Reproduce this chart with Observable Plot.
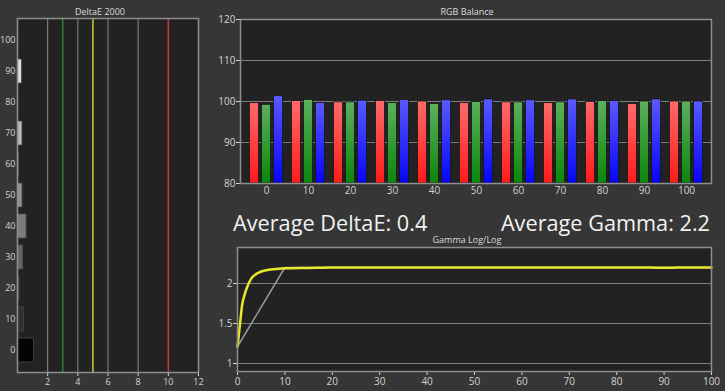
<!DOCTYPE html>
<html><head><meta charset="utf-8">
<script src="https://cdn.jsdelivr.net/npm/d3@7"></script>
<script src="https://cdn.jsdelivr.net/npm/@observablehq/plot@0.6"></script>
<style>
body{margin:0;background:#363636;}
#root{position:relative;width:725px;height:391px;background:#363636;overflow:hidden;font-family:"Open Sans",sans-serif;color:#ddd;}
.panel{position:absolute;}
.title{position:absolute;font-size:9px;line-height:1;color:#dcdcdc;transform:translateX(-50%);white-space:nowrap;}
.big{position:absolute;font-size:21.7px;line-height:1;color:#f2f2f2;white-space:nowrap;}
</style></head><body><div id="root"></div>
<script>
// ---- DeltaE 2000 (grayscale) ----
const deLevels = [0, 10, 20, 30, 40, 50, 60, 70, 80, 90, 100];
const deValues = [1.09, 0.42, 0.13, 0.38, 0.6, 0.33, 0.1, 0.33, 0.04, 0.29, 0.04];
const deTicks = [2, 4, 6, 8, 10, 12];
const deGrid = [2, 4, 6, 8];
const deGreen = [3];
const deYellow = [5];
const deRed = [10];

// ---- RGB Balance ----
const rgbLevels = [0, 10, 20, 30, 40, 50, 60, 70, 80, 90, 100];
const redVals   = [99.6, 100.1, 99.8, 100.1, 100.0, 99.6, 99.8, 99.6, 99.9, 99.4, 100.0];
const greenVals = [99.2, 100.4, 99.8, 99.6, 99.4, 99.9, 99.8, 99.8, 100.1, 100.0, 100.0];
const blueVals  = [101.3, 99.6, 100.2, 100.4, 100.3, 100.5, 100.3, 100.5, 100.1, 100.5, 100.0];
const rgbTicks = [80, 90, 100, 110, 120];
const rgbGrid = [90, 100, 110];

// ---- Gamma Log/Log ----
const gammaX = [0, 0.5, 1, 1.5, 2, 3, 4, 5, 6, 8, 10, 15, 20, 25, 30, 35, 40, 45, 50, 55, 60, 65, 70, 75, 80, 85, 88, 90, 92, 95, 100];
const gammaY = [1.21, 1.48, 1.74, 1.86, 1.95, 2.07, 2.12, 2.15, 2.165, 2.18, 2.19, 2.195, 2.2, 2.2, 2.2, 2.2, 2.2, 2.2, 2.2, 2.2, 2.2, 2.2, 2.2, 2.2, 2.2, 2.2, 2.198, 2.196, 2.198, 2.2, 2.2];
const targetX = [0, 10, 100];
const targetY = [1.21, 2.2, 2.2];
const gammaXTicks = [0, 10, 20, 30, 40, 50, 60, 70, 80, 90, 100];
const gammaYTicks = [1, 1.5, 2];

const root = document.getElementById("root");
const baseStyle = {background: "transparent", color: "#d2d2d2", fontFamily: "Open Sans", overflow: "visible"};

function place(el, left, top) {
  el.style.position = "absolute";
  el.style.left = left + "px";
  el.style.top = top + "px";
  root.appendChild(el);
}
function addText(cls, txt, css) {
  const d = document.createElement("div");
  d.className = cls;
  d.textContent = txt;
  Object.assign(d.style, css);
  root.appendChild(d);
}

// DeltaE chart
const deData = deLevels.map((l, i) => ({level: l, v: deValues[i]}));
const de = Plot.plot({
  width: 205, height: 391,
  marginLeft: 17, marginRight: 7, marginTop: 18, marginBottom: 19,
  style: {...baseStyle, fontSize: "9px"},
  x: {domain: [0, 12], ticks: deTicks, tickSize: 4, tickPadding: 2, label: null},
  y: {domain: deLevels.slice().reverse(), padding: 0.22, tickSize: 0, tickPadding: 2, label: null},
  color: {type: "pow", exponent: 0.75, domain: [0, 100], range: ["#040404", "#f2f2f2"], interpolate: "rgb"},
  marks: [
    Plot.frame({fill: "#222222"}),
    Plot.ruleX(deGrid, {stroke: "#8a8a8a", strokeWidth: 1}),
    Plot.ruleX(deGreen, {stroke: "#2f7a30", strokeWidth: 1.6}),
    Plot.ruleX(deYellow, {stroke: "#c4c236", strokeWidth: 1.6}),
    Plot.ruleX(deRed, {stroke: "#c2343e", strokeWidth: 1.6}),
    Plot.barX(deData, {x: "v", y: "level", fill: "level", stroke: "#4a4a4a", strokeWidth: 0.8}),
    Plot.frame({stroke: "#8e8e8e", strokeWidth: 1.5})
  ]
});
place(de, 0, 0);

// RGB chart
const mk = arr => rgbLevels.map((l, i) => ({level: l, v: arr[i]}));
const rgb = Plot.plot({
  width: 515, height: 200,
  marginLeft: 30, marginRight: 14, marginTop: 19, marginBottom: 17,
  style: {...baseStyle, fontSize: "10px"},
  x: {domain: rgbLevels, padding: 0, tickSize: 0, tickPadding: 3, label: null},
  y: {domain: [80, 120], ticks: rgbTicks, tickSize: 4, tickPadding: 1, label: null},
  marks: [
    Plot.frame({fill: "#222222"}),
    Plot.ruleY(rgbGrid, {stroke: "#7c7c7c", strokeWidth: 1}),
    Plot.barY(mk(redVals), {x: "level", y1: 80, y2: "v", dx: -12, insetLeft: 16.4, insetRight: 16.4, fill: "url(#gradR)", stroke: "#151515", strokeWidth: 0.8}),
    Plot.barY(mk(greenVals), {x: "level", y1: 80, y2: "v", dx: 0, insetLeft: 16.4, insetRight: 16.4, fill: "url(#gradG)", stroke: "#151515", strokeWidth: 0.8}),
    Plot.barY(mk(blueVals), {x: "level", y1: 80, y2: "v", dx: 12, insetLeft: 16.4, insetRight: 16.4, fill: "url(#gradB)", stroke: "#151515", strokeWidth: 0.8}),
    Plot.frame({stroke: "#8e8e8e", strokeWidth: 1.5})
  ]
});
const defs = d3.select(rgb).insert("defs", ":first-child");
[["gradR", "#ff6a6a", "#ff1a1a"], ["gradG", "#5cb05c", "#0a860a"], ["gradB", "#5a5aff", "#0505f5"]].forEach(([id, a, b]) => {
  const g = defs.append("linearGradient").attr("id", id).attr("x1", 0).attr("y1", 0).attr("x2", 0).attr("y2", 1);
  g.append("stop").attr("offset", "0%").attr("stop-color", a);
  g.append("stop").attr("offset", "100%").attr("stop-color", b);
});
place(rgb, 210, 0);

// Gamma chart
const gData = gammaX.map((x, i) => ({x, y: gammaY[i]}));
const tData = targetX.map((x, i) => ({x, y: targetY[i]}));
const gam = Plot.plot({
  width: 515, height: 155,
  marginLeft: 27, marginRight: 14, marginTop: 11, marginBottom: 20,
  style: {...baseStyle, fontSize: "10px"},
  x: {domain: [0, 100], ticks: gammaXTicks, tickSize: 4, tickPadding: 2, label: null},
  y: {domain: [0.9, 2.45], ticks: gammaYTicks, tickSize: 4, tickPadding: 1, label: null, tickFormat: d => String(d)},
  marks: [
    Plot.frame({fill: "#222222"}),
    Plot.ruleY(gammaYTicks, {stroke: "#7c7c7c", strokeWidth: 1}),
    Plot.line(tData, {x: "x", y: "y", stroke: "#9a9a9a", strokeWidth: 1.5}),
    Plot.line(gData, {x: "x", y: "y", stroke: "#e8e82c", strokeWidth: 2.5, curve: "monotone-x"}),
    Plot.frame({stroke: "#8e8e8e", strokeWidth: 1.5})
  ]
});
place(gam, 210, 236);

// Titles
addText("title", "DeltaE 2000", {left: "100px", top: "7px"});
addText("title", "RGB Balance", {left: "467px", top: "7px"});
addText("title", "Gamma Log/Log", {left: "467px", top: "235px"});
addText("big", "Average DeltaE: 0.4", {left: "233px", top: "212px"});
addText("big", "Average Gamma: 2.2", {right: "15px", top: "212px"});
</script>
</body></html>
